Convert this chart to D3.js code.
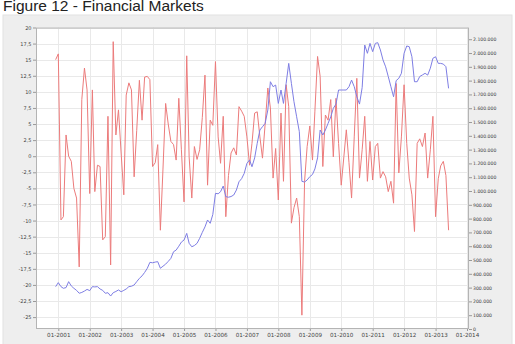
<!DOCTYPE html>
<html>
<head>
<meta charset="utf-8">
<script src="https://cdn.jsdelivr.net/npm/d3@7"></script>
<style>
  body { margin: 0; background: #fff; }
  svg { display: block; }
</style>
</head>
<body>
<div id="chart"></div>
<script>
(function() {
    "use strict";

    // first month of both series, one value per month after that
    var firstMonth = "2000-12";

    var yearTicks = [2001, 2002, 2003, 2004, 2005, 2006, 2007, 2008, 2009, 2010, 2011, 2012, 2013, 2014];
    var leftTicks = [20, 17.5, 15, 12.5, 10, 7.5, 5, 2.5, 0, -2.5, -5, -7.5, -10, -12.5, -15, -17.5, -20, -22.5, -25];
    var rightTicks = [0, 100000, 200000, 300000, 400000, 500000, 600000, 700000, 800000, 900000, 1000000,
        1100000, 1200000, 1300000, 1400000, 1500000, 1600000, 1700000, 1800000, 1900000, 2000000, 2100000];

    // red series, left axis (%)
    var pctChange = [
        15.0, 15.9, -9.9, -9.4, 3.3, 0.0, -0.8, -5.0, -6.5, -17.2, 8.8, 13.7, 10.3,
        -5.8, 10.3, -5.5, -1.4, -1.6, -13.0, -12.5, 6.2, -16.9, 17.8, 3.3, 7.2,
        0.5, -6.0, 9.5, 11.4, 10.3, -3.2, 4.0, 11.8, 5.6, 12.3, 12.4, 11.9,
        -1.6, -1.0, 1.8, -11.5, -2.0, 8.2, 5.0, 2.3, 1.8, -0.6, 9.0, 1.0,
        -7.1, 15.6, -0.1, -6.5, 1.5, -0.5, 1.0, 6.0, 12.6, -4.5, 5.6, 4.8,
        14.7, 3.0, -1.1, 6.2, -9.4, -3.0, 0.5, 1.3, 0.2, 7.7, 7.0, 6.2,
        3.0, -1.4, 2.0, 6.7, 6.9, 3.0, -0.3, 5.0, 10.6, 7.5, -3.4, 1.2,
        -6.8, 6.7, -3.9, 11.1, 7.7, -10.4, -8.0, -6.5, -9.4, -24.7, -3.9, 1.5,
        4.7, -0.6, 7.0, 15.5, 12.4, -1.6, 6.4, 5.6, 8.8, -0.1, 9.0, 2.0,
        -4.5, 0.0, 4.1, -1.0, -6.5, 3.0, 12.1, -3.4, 1.0, 6.2, -3.9, 2.3,
        -3.7, 1.5, 2.0, -3.4, -2.4, -3.2, -5.5, -3.9, -7.3, 11.3, -2.6, 3.0,
        11.1, 2.0, -3.4, -6.0, -11.7, 2.0, 2.7, 1.5, 3.6, -3.4, 1.0, 6.2,
        -9.4, -3.5, -1.5, -0.8, -3.0, -11.5
    ];

    // blue series, right axis (level)
    var level = [
        307000, 336000, 307000, 295000, 300000, 343000, 312000, 295000, 280000, 259000, 265000, 275000, 287000,
        278000, 307000, 305000, 307000, 290000, 280000, 259000, 263000, 239000, 263000, 272000, 283000,
        270000, 280000, 290000, 307000, 310000, 319000, 343000, 367000, 385000, 410000, 440000, 483000,
        480000, 485000, 488000, 440000, 455000, 470000, 490000, 512000, 560000, 572000, 600000, 630000,
        645000, 693000, 621000, 596000, 605000, 621000, 657000, 700000, 740000, 790000, 766000, 830000,
        983000, 980000, 995000, 1036000, 959000, 955000, 960000, 971000, 1007000, 1067000, 1090000, 1128000,
        1200000, 1225000, 1176000, 1240000, 1346000, 1442000, 1466000, 1490000, 1587000, 1792000, 1756000, 1768000,
        1635000, 1732000, 1635000, 1780000, 1925000, 1780000, 1647000, 1538000, 1430000, 1070000, 1065000, 1080000,
        1104000, 1120000, 1160000, 1240000, 1442000, 1406000, 1442000, 1490000, 1538000, 1599000, 1630000, 1732000,
        1732000, 1732000, 1732000, 1756000, 1804000, 1756000, 1683000, 1630000, 1750000, 2058000, 1998000, 2070000,
        2010000, 2070000, 2075000, 2022000, 1950000, 1900000, 1830000, 1756000, 1683000, 1800000, 1817000, 1853000,
        1998000, 2051000, 2046000, 1973000, 1792000, 1792000, 1830000, 1841000, 1853000, 1840000, 1890000, 1962000,
        1973000, 1925000, 1925000, 1920000, 1901000, 1744000
    ];

    var width = 515, height = 344;
    var plot = {left: 36, right: 469, top: 27.5, bottom: 329};

    var locale = d3.formatLocale({decimal: ",", thousands: ".", grouping: [3], currency: ["", ""], minus: "-"});
    var fmtLeft = locale.format(",.1~f");
    var fmtRight = locale.format(",d");
    var fmtDate = d3.timeFormat("%m-%Y");

    var start = d3.timeParse("%Y-%m")(firstMonth);
    var months = pctChange.map(function(d, i) { return d3.timeMonth.offset(start, i); });

    var x = d3.scaleTime()
        .domain([new Date(2001, 0, 1), new Date(2014, 0, 1)])
        .range([58.3, 467]);
    var yLeft = d3.scaleLinear().domain([-26.85, 20]).range([plot.bottom, plot.top]);
    var yRight = d3.scaleLinear().domain([0, 2185000]).range([plot.bottom, plot.top]);

    var svg = d3.select("#chart").append("svg")
        .attr("width", width)
        .attr("height", height);

    // grey panel
    svg.append("rect")
        .attr("x", 3).attr("y", 15)
        .attr("width", 509).attr("height", 335)
        .attr("fill", "#eeeeee")
        .attr("stroke", "#e2e2e2");

    svg.append("text")
        .attr("x", 3).attr("y", 11)
        .attr("font-family", "'Liberation Sans', Arial, sans-serif")
        .attr("font-size", 15.5)
        .attr("fill", "#222")
        .text("Figure 12 - Financial Markets");

    // plot area
    svg.append("rect")
        .attr("x", plot.left).attr("y", plot.top)
        .attr("width", plot.right - plot.left).attr("height", plot.bottom - plot.top)
        .attr("fill", "#fff");

    var yearDates = yearTicks.map(function(y) { return new Date(y, 0, 1); });

    var grid = svg.append("g").attr("stroke", "#e9e9e9").attr("stroke-width", 1);
    grid.selectAll("line.h").data(leftTicks).enter().append("line")
        .attr("class", "h")
        .attr("x1", plot.left).attr("x2", plot.right)
        .attr("y1", function(d) { return Math.round(yLeft(d)) + 0.5; })
        .attr("y2", function(d) { return Math.round(yLeft(d)) + 0.5; });
    grid.selectAll("line.v").data(yearDates).enter().append("line")
        .attr("class", "v")
        .attr("y1", plot.top).attr("y2", plot.bottom)
        .attr("x1", function(d) { return Math.round(x(d)) + 0.5; })
        .attr("x2", function(d) { return Math.round(x(d)) + 0.5; });

    svg.append("rect")
        .attr("x", plot.left + 0.5).attr("y", plot.top + 0.5)
        .attr("width", plot.right - plot.left - 1).attr("height", plot.bottom - plot.top - 1)
        .attr("fill", "none")
        .attr("stroke", "#b4b4b4");

    // axes
    var axisFont = "'DejaVu Sans', Verdana, sans-serif";

    var leftAxis = svg.append("g")
        .attr("transform", "translate(" + plot.left + ",0)")
        .call(d3.axisLeft(yLeft).tickValues(leftTicks).tickFormat(fmtLeft).tickSize(3).tickPadding(1.5));
    leftAxis.select(".domain").remove();

    var rightAxis = svg.append("g")
        .attr("transform", "translate(" + plot.right + ",0)")
        .call(d3.axisRight(yRight).tickValues(rightTicks).tickFormat(fmtRight).tickSize(3).tickPadding(1));
    rightAxis.select(".domain").remove();

    var bottomAxis = svg.append("g")
        .attr("transform", "translate(0," + plot.bottom + ")")
        .call(d3.axisBottom(x).tickValues(yearDates).tickFormat(fmtDate).tickSize(2).tickPadding(2));
    bottomAxis.select(".domain").remove();

    [leftAxis, rightAxis, bottomAxis].forEach(function(a) {
        a.attr("font-family", axisFont).attr("font-size", null);
        a.selectAll(".tick line").attr("stroke", "#999");
        a.selectAll(".tick text").attr("fill", "#444");
    });
    leftAxis.selectAll(".tick text").attr("font-size", 5);
    rightAxis.selectAll(".tick text").attr("font-size", 4.6);
    bottomAxis.selectAll(".tick text").attr("font-size", 5.6);

    // series
    var redLine = d3.line()
        .x(function(d, i) { return x(months[i]); })
        .y(function(d) { return yLeft(d); });
    var blueLine = d3.line()
        .x(function(d, i) { return x(months[i]); })
        .y(function(d) { return yRight(d); });

    svg.append("path")
        .datum(pctChange)
        .attr("d", redLine)
        .attr("fill", "none")
        .attr("stroke", "#ec7b7b")
        .attr("stroke-width", 1);

    svg.append("path")
        .datum(level)
        .attr("d", blueLine)
        .attr("fill", "none")
        .attr("stroke", "#7e7ee4")
        .attr("stroke-width", 1);
})();
</script>
</body>
</html>
